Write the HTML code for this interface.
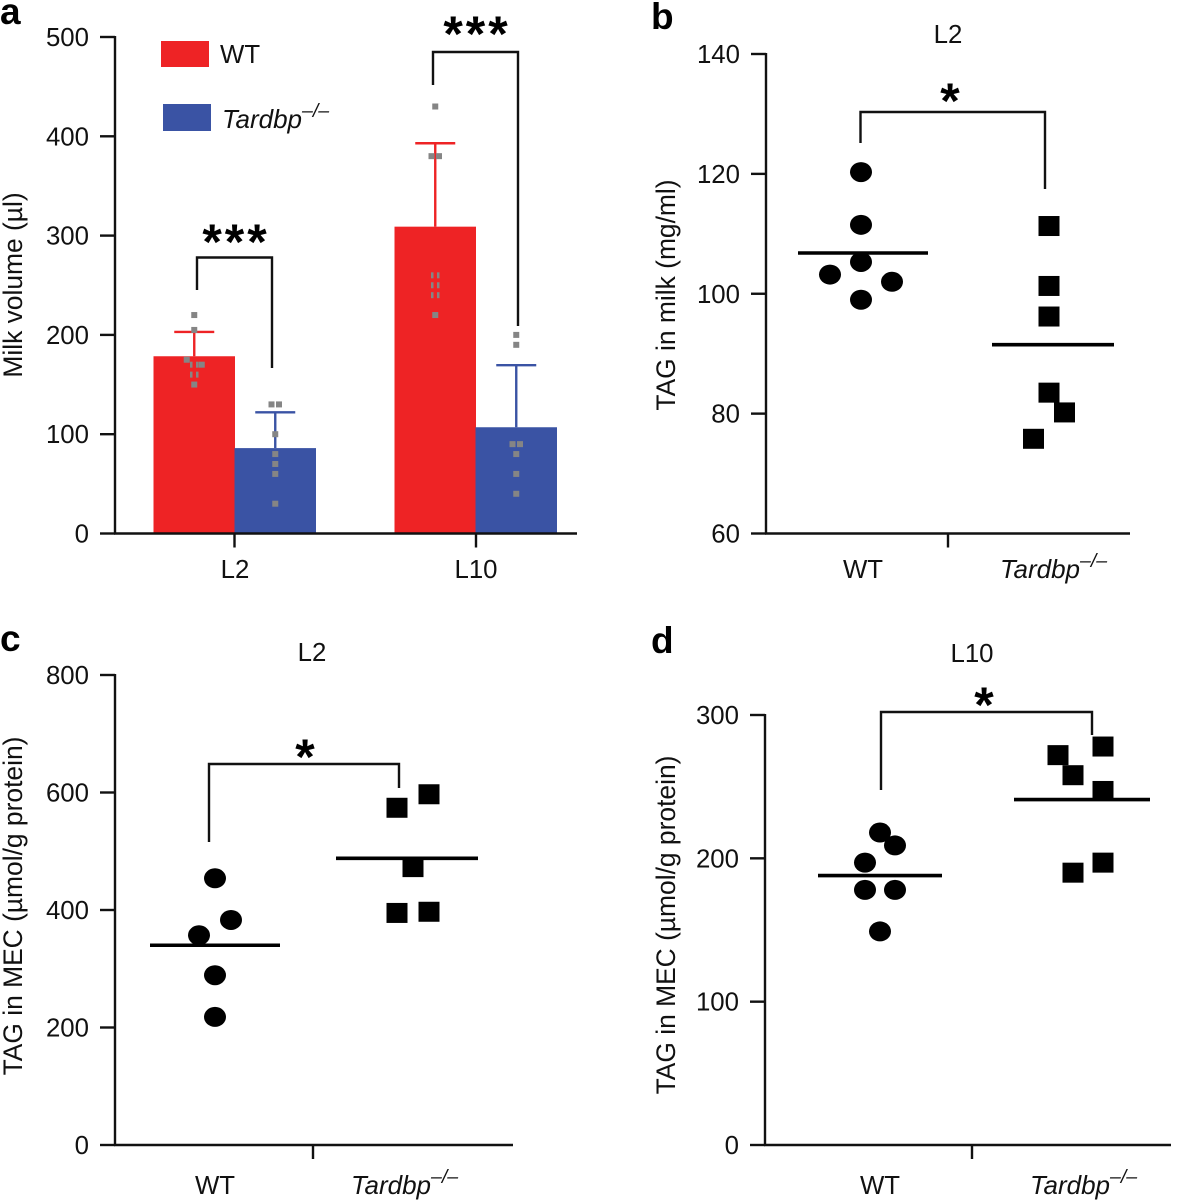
<!DOCTYPE html>
<html lang="en">
<head>
<meta charset="utf-8">
<title>Milk volume and TAG panels</title>
<style>
html,body{margin:0;padding:0;background:#fff;}
svg{display:block;}
text{font-family:"Liberation Sans",sans-serif;fill:#111;}
.tick{font-size:25.800px;}
.cat{font-size:25.800px;}
.ttl{font-size:25.800px;}
.ytitle{font-size:26.400px;}
.letter{font-size:37px;font-weight:bold;fill:#000;}
.it{font-style:italic;font-size:26px;}
.sup{font-size:19.500px;font-style:italic;}
.star{font-size:50px;font-weight:bold;fill:#000;}
.stars3{letter-spacing:3px;}
</style>
</head>
<body>
<svg id="fig" xmlns="http://www.w3.org/2000/svg" width="1183" height="1200" viewBox="0 0 1183 1200">
  <text class="letter" x="0" y="24">a</text>
  <text class="letter" x="651" y="29">b</text>
  <text class="letter" x="0" y="651">c</text>
  <text class="letter" x="651" y="653">d</text>

  <text class="ytitle" transform="translate(22,285) rotate(-90)" text-anchor="middle">Milk volume (µl)</text>
  <text class="ytitle" transform="translate(675,295) rotate(-90)" text-anchor="middle">TAG in milk (mg/ml)</text>
  <text class="ytitle" transform="translate(22,906) rotate(-90)" text-anchor="middle">TAG in MEC (µmol/g protein)</text>
  <text class="ytitle" transform="translate(675,925) rotate(-90)" text-anchor="middle">TAG in MEC (µmol/g protein)</text>

  <text class="ttl" x="948" y="43" text-anchor="middle">L2</text>
  <text class="ttl" x="312" y="661" text-anchor="middle">L2</text>
  <text class="ttl" x="972" y="662" text-anchor="middle">L10</text>

  <rect x="161" y="41" width="48" height="26" fill="#ee2325"/>
  <text class="ttl" x="220" y="63">WT</text>
  <rect x="163" y="104" width="48" height="27" fill="#3a53a4"/>
  <text class="ttl" x="222" y="128"><tspan class="it">Tardbp</tspan><tspan class="sup" dy="-11">–/–</tspan></text>

  <text class="cat" x="235" y="578" text-anchor="middle">L2</text>
  <text class="cat" x="476" y="578" text-anchor="middle">L10</text>
  <text class="cat" x="863" y="578" text-anchor="middle">WT</text>
  <text class="cat" x="1000" y="578"><tspan class="it">Tardbp</tspan><tspan class="sup" dy="-11">–/–</tspan></text>
  <text class="cat" x="215" y="1194" text-anchor="middle">WT</text>
  <text class="cat" x="351" y="1194"><tspan class="it">Tardbp</tspan><tspan class="sup" dy="-11">–/–</tspan></text>
  <text class="cat" x="880" y="1194" text-anchor="middle">WT</text>
  <text class="cat" x="1030" y="1194"><tspan class="it">Tardbp</tspan><tspan class="sup" dy="-11">–/–</tspan></text>

  <path d="M197 290V257.500H272V368" fill="none" stroke="#111" stroke-width="2.400"/>
  <path d="M433 85V52H518V326" fill="none" stroke="#111" stroke-width="2.400"/>
  <path d="M860.500 143V112H1045V189" fill="none" stroke="#111" stroke-width="2.400"/>
  <path d="M209 842V764H399V788" fill="none" stroke="#111" stroke-width="2.400"/>
  <path d="M881 790V712H1092V735" fill="none" stroke="#111" stroke-width="2.400"/>

  <text class="star stars3" x="236" y="259" text-anchor="middle">***</text>
  <text class="star stars3" x="477" y="51" text-anchor="middle">***</text>
  <text class="star" x="950" y="118" text-anchor="middle">*</text>
  <text class="star" x="305" y="774" text-anchor="middle">*</text>
  <text class="star" x="984" y="722" text-anchor="middle">*</text>
</svg>
<script>
/* Panel a data */
const aTicks = [0, 100, 200, 300, 400, 500];
const aMeans = [178.500, 86, 309, 107];
const aErrors = [203, 122, 393, 169.5];
const aGroups = ['WT', 'Tardbp', 'WT', 'Tardbp'];
const aPointValues = [
  [220, 205, 175, 170, 170, 170, 160, 160, 150],
  [130, 130, 100, 80, 70, 60, 30],
  [430, 380, 380, 260, 260, 250, 250, 240, 240, 220],
  [200, 190, 90, 90, 80, 60, 40]
];
const aPointSlots = [
  [0, 0, -1, -0.3, 0.3, 1, -0.3, 0.3, 0],
  [-0.5, 0.5, 0, 0, 0, 0, 0],
  [0, -0.5, 0.5, -0.3, 0.3, -0.3, 0.3, -0.3, 0.3, 0],
  [0, 0, -0.5, 0.5, 0, 0, 0]
];

/* Panel b data */
const bTicks = [60, 80, 100, 120, 140];
const bWt = [120.3, 111.5, 105.3, 103.2, 102, 99];
const bWtSlots = [0, 0, 0, -1, 1, 0];
const bWtMean = 106.8;
const bKo = [111.3, 101.3, 96.2, 83.5, 80.2, 75.8];
const bKoSlots = [0, 0, 0, 0, 1, -1];
const bKoMean = 91.5;

/* Panel c data */
const cTicks = [0, 200, 400, 600, 800];
const cWt = [454, 383, 357, 289, 218];
const cWtSlots = [0, 1, -1, 0, 0];
const cWtMean = 340;
const cKo = [597, 574, 473, 397, 395];
const cKoSlots = [1, -1, 0, 1, -1];
const cKoMean = 488;

/* Panel d data */
const dTicks = [0, 100, 200, 300];
const dWt = [218, 209, 197, 178, 178, 149];
const dWtSlots = [0, 1, -1, -1, 1, 0];
const dWtMean = 188;
const dKo = [278, 272, 258, 247, 197, 190];
const dKoSlots = [2, -1, 0, 2, 2, 0];
const dKoMean = 241;

const NS = 'http://www.w3.org/2000/svg';
const fig = document.getElementById('fig');
const INK = '#111';
const RED = '#ee2325';
const BLUE = '#3a53a4';

function make(tag, attrs) {
  const el = document.createElementNS(NS, tag);
  for (const k in attrs) el.setAttribute(k, attrs[k]);
  fig.appendChild(el);
  return el;
}

function linear(d0, d1, r0, r1) {
  return v => r0 + (v - d0) * (r1 - r0) / (d1 - d0);
}

function drawAxes(panel, y, ticks, axisX, axisEnd, xTicks, xTickLen) {
  const yLine = make('line', {x1: axisX, x2: axisX, y1: y(ticks[ticks.length - 1]) - 1, y2: y(ticks[0]) + 1, stroke: INK, 'stroke-width': 2.4});
  
  
  const xLine = make('line', {x1: axisX - 1, x2: axisEnd, y1: y(ticks[0]), y2: y(ticks[0]), stroke: INK, 'stroke-width': 2.4});
  
  
  ticks.forEach(t => {
    const m = make('line', {x1: axisX - 15, x2: axisX, y1: y(t), y2: y(t), stroke: INK, 'stroke-width': 2.4});
    
    
    const l = make('text', {x: axisX - 26, y: y(t) + 9, 'text-anchor': 'end', class: 'tick'});
    l.textContent = t;
    
    
  });
  xTicks.forEach((xt, i) => {
    const m = make('line', {x1: xt, x2: xt, y1: y(ticks[0]), y2: y(ticks[0]) + xTickLen, stroke: INK, 'stroke-width': 2.4});
    
    
  });
}

function drawScatter(panel, group, values, slots, mean, y, center, spacing, x1, x2, square) {
  values.forEach((v, i) => {
    const px = center + slots[i] * spacing;
    let m;
    if (square) {
      m = make('rect', {x: px - 10.500, y: y(v) - 10, width: 21, height: 20, fill: '#000'});
    } else {
      m = make('ellipse', {cx: px, cy: y(v), rx: 11, ry: 10, fill: '#000'});
    }
    
    
  });
  const ml = make('line', {x1: x1, x2: x2, y1: y(mean), y2: y(mean), stroke: '#000', 'stroke-width': 3.6});
  
  
}

/* Panel a */
const ayScale = linear(0, 500, 533.5, 37);
const aBarLeft = [153.5, 234.5, 394.5, 475.5];
const aBarWidth = 81.5;
aMeans.forEach((v, i) => {
  const color = aGroups[i] === 'WT' ? RED : BLUE;
  const key = (i < 2 ? 'l2-' : 'l10-') + aGroups[i].toLowerCase();
  const cx = aBarLeft[i] + aBarWidth / 2;
  const bar = make('rect', {x: aBarLeft[i], y: ayScale(v), width: aBarWidth, height: ayScale(0) - ayScale(v), fill: color});
  
  
  const stem = make('line', {x1: cx, x2: cx, y1: ayScale(v), y2: ayScale(aErrors[i]), stroke: color, 'stroke-width': 2.4});
  
  
  const cap = make('line', {x1: cx - 20, x2: cx + 20, y1: ayScale(aErrors[i]), y2: ayScale(aErrors[i]), stroke: color, 'stroke-width': 2.4});
  
  
  aPointValues[i].forEach((pv, j) => {
    const narrow = Math.abs(aPointSlots[i][j]) === 0.3;
    const w = narrow ? 2.5 : 6;
    const px = cx + aPointSlots[i][j] * (narrow ? 10 : 7.5);
    const dot = make('rect', {x: px - w / 2, y: ayScale(pv) - 3, width: w, height: 6, fill: '#858585'});
    
    
  });
});
drawAxes('panel-a', ayScale, aTicks, 115, 577, [234.5, 476], 14);

/* Panel b */
const byScale = linear(60, 140, 533.5, 54);
drawAxes('panel-b', byScale, bTicks, 766, 1130, [948], 14);
drawScatter('panel-b', 'wt', bWt, bWtSlots, bWtMean, byScale, 861, 31, 798, 928, false);
drawScatter('panel-b', 'tardbp', bKo, bKoSlots, bKoMean, byScale, 1049, 15.5, 992, 1114, true);

/* Panel c */
const cyScale = linear(0, 800, 1145, 675);
drawAxes('panel-c', cyScale, cTicks, 115, 513, [313], 14);
drawScatter('panel-c', 'wt', cWt, cWtSlots, cWtMean, cyScale, 215, 16, 150, 280, false);
drawScatter('panel-c', 'tardbp', cKo, cKoSlots, cKoMean, cyScale, 413, 16, 336, 478, true);

/* Panel d */
const dyScale = linear(0, 300, 1145, 715);
drawAxes('panel-d', dyScale, dTicks, 765, 1171, [972], 14);
drawScatter('panel-d', 'wt', dWt, dWtSlots, dWtMean, dyScale, 880, 15, 818, 942, false);
drawScatter('panel-d', 'tardbp', dKo, dKoSlots, dKoMean, dyScale, 1073, 15, 1014, 1150, true);
</script>
</body>
</html>
